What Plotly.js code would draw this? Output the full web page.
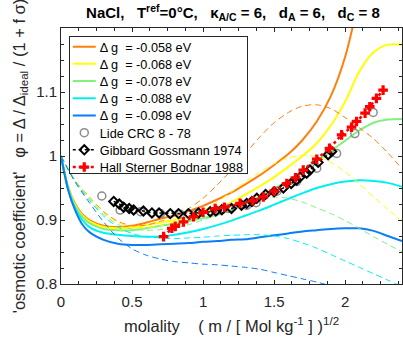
<!DOCTYPE html>
<html>
<head>
<meta charset="utf-8">
<script src="https://cdn.plot.ly/plotly-3.0.1.min.js"></script>
<style>html,body{margin:0;padding:0;background:#fff;}#chart{width:403px;height:340px;}</style>
</head>
<body>
<div id="chart"></div>
<script>
// ---- data ----
const seriesNames = ["\u0394 g  = -0.058 eV", "\u0394 g  = -0.068 eV", "\u0394 g  = -0.078 eV", "\u0394 g  = -0.088 eV", "\u0394 g  = -0.098 eV"];
const seriesColors = ["#ff7f0e", "#ffff00", "#80f080", "#00f0f0", "#0a7ff5"];

const xSolid = [0,0.05,0.1,0.15,0.2,0.3,0.4,0.5,0.6,0.7,0.8,0.9,1.0,1.1,1.2,1.3,1.4,1.5,1.6,1.7,1.8,1.9,2.0,2.1,2.2,2.3,2.4];
const phiOrange = [1,0.952,0.925,0.909,0.900,0.891,0.889,0.891,0.896,0.902,0.907,0.914,0.922,0.932,0.943,0.956,0.970,0.986,1.003,1.025,1.054,1.094,1.155,1.25,1.37,1.5,1.65];
const phiYellow = [1,0.951,0.923,0.907,0.898,0.889,0.887,0.888,0.892,0.896,0.900,0.905,0.911,0.918,0.928,0.940,0.953,0.967,0.983,1.000,1.020,1.048,1.085,1.132,1.162,1.174,1.174];
const phiGreen  = [1,0.950,0.921,0.905,0.895,0.886,0.884,0.884,0.887,0.891,0.894,0.898,0.903,0.908,0.916,0.926,0.937,0.949,0.962,0.976,0.992,1.008,1.024,1.040,1.052,1.057,1.058];
const phiCyan   = [1,0.949,0.918,0.900,0.889,0.880,0.877,0.875,0.874,0.874,0.877,0.881,0.886,0.892,0.899,0.907,0.915,0.924,0.933,0.942,0.950,0.956,0.960,0.962,0.961,0.958,0.952];
const phiBlue   = [1,0.947,0.915,0.893,0.881,0.869,0.863,0.861,0.861,0.862,0.863,0.864,0.866,0.867,0.869,0.870,0.873,0.876,0.879,0.882,0.884,0.886,0.887,0.887,0.883,0.875,0.867];

const xDash = [0,0.1,0.2,0.3,0.4,0.5,0.6,0.7,0.8,0.9,1.0,1.1,1.2,1.3,1.4,1.5,1.6,1.7,1.8,1.9,2.0,2.1,2.2,2.3,2.4];
const dashOrange = [1,0.962,0.936,0.913,0.898,0.891,0.892,0.898,0.906,0.918,0.934,0.955,0.978,1.004,1.030,1.052,1.068,1.078,1.080,1.074,1.060,1.044,1.027,1.005,0.980];
const dashYellow = [1,0.962,0.935,0.911,0.896,0.889,0.888,0.891,0.897,0.905,0.915,0.928,0.944,0.960,0.975,0.988,0.997,1.001,0.999,0.990,0.975,0.956,0.936,0.917,0.898];
const dashGreen  = [1,0.961,0.933,0.909,0.893,0.886,0.884,0.885,0.888,0.893,0.900,0.908,0.917,0.926,0.933,0.936,0.934,0.928,0.919,0.910,0.899,0.887,0.874,0.862,0.850];
const dashCyan   = [1,0.960,0.931,0.906,0.889,0.879,0.874,0.872,0.871,0.872,0.873,0.875,0.876,0.877,0.877,0.875,0.871,0.864,0.856,0.846,0.836,0.826,0.816,0.806,0.796];
const dashBlue   = [1,0.959,0.927,0.897,0.872,0.855,0.845,0.839,0.835,0.833,0.831,0.830,0.828,0.826,0.823,0.818,0.813,0.808,0.803,0.797,0.790,0.783,0.776,0.770,0.764];

const lideX = [0.287,0.416,0.56,0.70,0.84,0.95,1.10,1.18,1.307,1.373,1.52,1.658,1.80,1.94,2.068,2.197];
const lideY = [0.9375,0.9156,0.913,0.910,0.909,0.910,0.915,0.918,0.923,0.927,0.945,0.960,0.981,1.004,1.035,1.068];

const gibX = [0.371,0.41,0.441,0.48,0.511,0.58,0.64,0.69,0.769,0.827,0.897,0.968,1.05,1.09,1.132,1.20,1.27,1.307,1.343,1.378,1.44,1.50,1.565,1.62,1.658,1.682,1.729,1.752,1.81,1.88,1.905];
const gibY = [0.929,0.925,0.920,0.918,0.9156,0.914,0.911,0.911,0.910,0.910,0.910,0.911,0.913,0.914,0.916,0.918,0.923,0.926,0.929,0.934,0.940,0.944,0.950,0.957,0.9625,0.967,0.973,0.978,0.990,1.002,1.007];

const hallX = [0.722,0.78,0.804,0.862,0.933,1.0,1.085,1.15,1.26,1.35,1.424,1.5,1.589,1.65,1.705,1.8,1.89,1.975,2.045,2.08,2.14,2.173,2.22,2.267];
const hallY = [0.874,0.887,0.890,0.897,0.905,0.912,0.918,0.920,0.926,0.930,0.936,0.945,0.957,0.966,0.978,0.995,1.012,1.033,1.045,1.054,1.067,1.077,1.090,1.103];

const xTickVals = [0,0.5,1,1.5,2];
const xTickText = ['0','0.5','1','1.5','2'];
const yTickVals = [0.8,0.9,1,1.1];
const yTickText = ['0.8','0.9','1','1.1'];

// ---- traces ----
const solids = [phiOrange, phiYellow, phiGreen, phiCyan, phiBlue];
const dashes = [dashOrange, dashYellow, dashGreen, dashCyan, dashBlue];
const traces = [];
solids.forEach((ys, i) => traces.push({
  x: xSolid, y: ys, type: 'scatter', mode: 'lines', name: seriesNames[i],
  line: {color: seriesColors[i], width: 2, shape: 'spline', smoothing: 0.8}
}));
dashes.forEach((ys, i) => traces.push({
  x: xDash, y: ys, type: 'scatter', mode: 'lines', showlegend: false, hoverinfo: 'skip',
  line: {color: seriesColors[i], width: 1, dash: '6px,4px', shape: 'spline', smoothing: 0.8}
}));
traces.push({x: lideX, y: lideY, type: 'scatter', mode: 'markers', name: 'Lide CRC 8 - 78',
  marker: {symbol: 'circle-open', size: 8, color: '#8c8c8c', line: {width: 1.5, color: '#8c8c8c'}}});
traces.push({x: gibX, y: gibY, type: 'scatter', mode: 'lines+markers', name: 'Gibbard Gossmann 1974',
  line: {color: '#000', width: 1.5, dash: 'dot'},
  marker: {symbol: 'diamond-open', size: 7, color: '#000', line: {width: 2, color: '#000'}}});
traces.push({x: hallX, y: hallY, type: 'scatter', mode: 'lines+markers', name: 'Hall Sterner Bodnar 1988',
  line: {color: '#ff0000', width: 2.5, dash: 'dot'},
  marker: {symbol: 'cross', size: 8, color: '#ff0000'}});

const fontFam = 'Liberation Sans, Arial, Helvetica, sans-serif';
const layout = {
  width: 403, height: 340,
  margin: {l: 60.5, r: 1, t: 28, b: 56},
  paper_bgcolor: '#fff', plot_bgcolor: '#fff',
  font: {family: fontFam, color: '#262626', size: 15},
  title: {text: '<b>NaCl,   T<sup>ref</sup>=0°C,   \u03ba<sub>A/C</sub> = 6,   d<sub>A</sub> = 6,   d<sub>C</sub> = 8</b>',
    font: {family: fontFam, size: 15, color: '#000'}, x: 0.578, xanchor: 'center', y: 0.962, yanchor: 'middle'},
  showlegend: true,
  legend: {x: 0.0228, y: 0.969, xanchor: 'left', yanchor: 'top', bgcolor: '#fff', bordercolor: '#262626', borderwidth: 1,
    font: {family: fontFam, size: 12.7, color: '#000'}, tracegroupgap: 0, itemwidth: 30},
  xaxis: {range: [0, 2.4], tickvals: xTickVals, ticktext: xTickText,
    ticks: 'inside', ticklen: 4, tickcolor: '#262626', showline: true, linecolor: '#262626', linewidth: 1,
    mirror: 'allticks', showgrid: false, zeroline: false, ticklabelstandoff: 4,
    minor: {dtick: 0.125, tick0: 0, ticks: 'inside', ticklen: 3, tickcolor: '#262626', showgrid: false},
    tickfont: {size: 15, color: '#262626'},
    title: {text: 'molality    ( m / [ Mol kg<sup>-1</sup> ] )<sup>1/2</sup>', font: {size: 16.5, color: '#262626'}, standoff: 11}},
  yaxis: {range: [0.8, 1.2], tickvals: yTickVals, ticktext: yTickText,
    ticks: 'inside', ticklen: 4, tickcolor: '#262626', showline: true, linecolor: '#262626', linewidth: 1,
    mirror: 'allticks', showgrid: false, zeroline: false,
    minor: {dtick: 0.025, tick0: 0.8, ticks: 'inside', ticklen: 3, tickcolor: '#262626', showgrid: false},
    tickfont: {size: 15, color: '#262626'},
    title: {text: "'osmotic coefficient'   \u03c6 = \u0394 / \u0394<sub>ideal</sub> / (1 + f \u03c3)", font: {size: 16.5, color: '#262626'}, standoff: 6}}
};

// compact the legend rows to the reference spacing
function tightenLegend(gd) {
  const leg = gd.querySelector('g.legend');
  if (!leg) return;
  const rowH = 17.2, top = 10.7, boxW = 178, boxH = 137;
  leg.querySelectorAll('g.traces').forEach((g, i) => {
    g.setAttribute('transform', 'translate(0,' + (top + rowH * i) + ')');
    const t = g.querySelector('text.legendtext');
    if (t) {
      t.setAttribute('x', 31);
      t.querySelectorAll('tspan[x]').forEach(ts => ts.setAttribute('x', 31));
    }
    g.querySelectorAll('g.legendlines path').forEach(p => p.setAttribute('d', 'M4,0h23'));
    g.querySelectorAll('g.legendpoints path.scatterpts').forEach(p => p.setAttribute('transform', 'translate(15.5,0)'));
  });
  const bg = leg.querySelector('rect.bg');
  if (bg) { bg.setAttribute('width', boxW); bg.setAttribute('height', boxH); }
}

Plotly.newPlot('chart', traces, layout, {displayModeBar: false, staticPlot: true}).then(tightenLegend);
</script>
</body>
</html>
